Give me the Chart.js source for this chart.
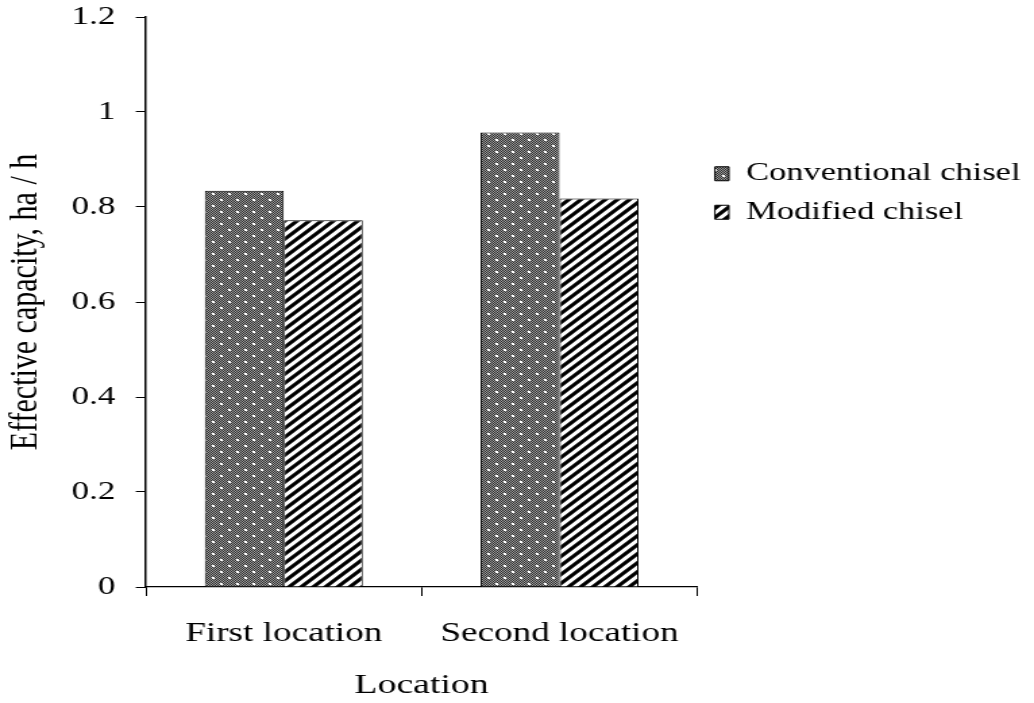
<!DOCTYPE html>
<html>
<head>
<meta charset="utf-8">
<script src="https://cdn.jsdelivr.net/npm/chart.js@4.4.1/dist/chart.umd.min.js"></script>
<style>
  html, body { margin: 0; padding: 0; background: #fff; overflow: hidden; }
  /* the chart is laid out on a narrower canvas and widened to the page */
  #stage { width: 766px; height: 703px; transform: scaleX(1.349869); transform-origin: 0 0; }
  canvas { display: block; }
</style>
</head>
<body>
<div id="stage"><canvas id="chart" width="766" height="703"></canvas></div>
<script>
// Effective field capacity of the two chisel ploughs at each site
const categories = ['First location', 'Second location'];
const seriesNames = ['Conventional chisel', 'Modified chisel'];
const conventional = [0.834, 0.957];
const modified = [0.772, 0.818];
const yTickValues = [0, 0.2, 0.4, 0.6, 0.8, 1, 1.2];
const yTickLabels = ['0', '0.2', '0.4', '0.6', '0.8', '1', '1.2'];

Chart.defaults.font.family = "'Liberation Serif', 'Times New Roman', Times, serif";
Chart.defaults.color = '#000';

const canvas = document.getElementById('chart');
const ctx = canvas.getContext('2d');

// dotted grey fill: fine checker with a staggered grid of white dots
function dotFill() {
  const t = document.createElement('canvas');
  t.width = 12; t.height = 12;
  const g = t.getContext('2d');
  for (let y = 0; y < 12; y++) {
    for (let x = 0; x < 12; x++) {
      g.fillStyle = (x + y) % 2 ? '#a0a0a0' : '#2a2a2a';
      g.fillRect(x, y, 1, 1);
    }
  }
  g.fillStyle = '#fff';
  g.fillRect(1, 1, 2, 2);
  g.fillRect(7, 7, 2, 2);
  return ctx.createPattern(t, 'repeat');
}

// forward diagonal hatching
function hatchFill() {
  const n = 9;
  const t = document.createElement('canvas');
  t.width = n; t.height = n;
  const g = t.getContext('2d');
  g.fillStyle = '#fff';
  g.fillRect(0, 0, n, n);
  g.strokeStyle = '#000';
  g.lineWidth = 3.2;
  g.beginPath();
  for (const c of [0, n, 2 * n]) {
    g.moveTo(-3, c + 3);
    g.lineTo(c + 3, -3);
  }
  g.stroke();
  return ctx.createPattern(t, 'repeat');
}

new Chart(ctx, {
  type: 'bar',
  data: {
    labels: categories,
    datasets: [
      { label: seriesNames[0], data: conventional, backgroundColor: dotFill(), borderColor: '#000', borderWidth: 1 },
      { label: seriesNames[1], data: modified, backgroundColor: hatchFill(), borderColor: '#000', borderWidth: 1 }
    ]
  },
  options: {
    responsive: false,
    animation: false,
    devicePixelRatio: 1,
    layout: { padding: { top: 17, right: 0, bottom: 0, left: 0 } },
    datasets: { bar: { categoryPercentage: 0.573, barPercentage: 1 } },
    plugins: {
      legend: {
        position: 'right',
        align: 'start',
        maxWidth: 260,
        title: { display: true, text: ' ', font: { size: 10, lineHeight: 1 }, padding: { top: 121, bottom: 0 } },
        labels: { color: '#000', font: { size: 25.5 }, boxWidth: 10.4, boxHeight: 14, padding: 13 }
      },
      tooltip: { enabled: false }
    },
    scales: {
      x: {
        grid: { offset: true, drawOnChartArea: false, drawTicks: true, tickLength: 9, color: '#000', lineWidth: 1 },
        border: { display: true, color: '#000', width: 1.3 },
        ticks: { color: '#000', font: { size: 27.5, lineHeight: 1 }, padding: 24.25, maxRotation: 0 },
        title: { display: true, text: 'Location', color: '#000', font: { size: 28, lineHeight: 1 }, padding: { top: 0, bottom: 3 } }
      },
      y: {
        min: 0,
        max: 1.2,
        afterFit(scale) {
          scale.width = 108.1;
          scale.paddingTop = 0;
          scale.paddingBottom = 0;
        },
        afterBuildTicks(scale) { scale.ticks = yTickValues.map(v => ({ value: v })); },
        grid: { drawOnChartArea: false, drawTicks: true, tickLength: 7.5, color: '#000' },
        border: { display: true, color: '#000', width: 1.5 },
        ticks: { color: '#000', font: { size: 26 }, padding: 15, callback: (v, i) => yTickLabels[i] },
        title: { display: true, text: 'Effective capacity, ha / h', color: '#000', font: { size: 30 }, padding: { top: 1.5, bottom: 0 } }
      }
    }
  }
});
</script>
</body>
</html>
